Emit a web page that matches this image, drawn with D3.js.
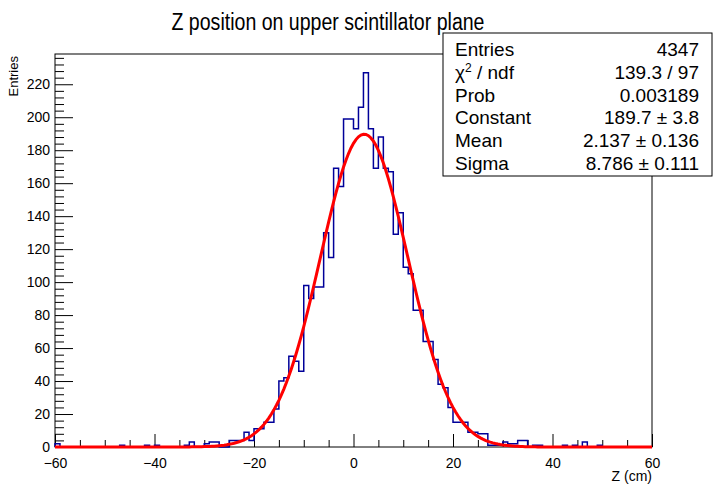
<!DOCTYPE html>
<html>
<head>
<meta charset="utf-8">
<script src="https://cdn.jsdelivr.net/npm/d3@7/dist/d3.min.js"></script>
<style>
  body { margin: 0; background: #fff; }
  text { font-family: "Liberation Sans", Arial, Helvetica, sans-serif; fill: #000; }
</style>
</head>
<body>
<div id="chart"></div>
<script>
// histogram: 120 bins of 1 cm from -60 to 60
var binStart = -60;
var binWidth = 1;
var binCounts = [
  2, 0, 0, 0, 0, 0, 0, 0, 0, 0,     // -60 .. -51
  0, 0, 0, 1, 0, 0, 0, 0, 1, 0,     // -50 .. -41
  1, 0, 0, 0, 0, 0, 1, 3, 0, 0,     // -40 .. -31
  2, 3, 3, 0, 0, 4, 4, 4, 9, 4,     // -30 .. -21
  11, 11, 15, 15, 23, 40, 42, 55, 52, 46,        // -20 .. -11
  98, 90, 97, 97, 130, 115, 169, 158, 199, 199,  // -10 .. -1
  193, 206, 227, 193, 169, 188, 169, 167, 129, 142, // 0 .. 9
  109, 105, 83, 83, 64, 64, 53, 38, 36, 24,      // 10 .. 19
  15, 15, 15, 9, 9, 8, 8, 1, 1, 1,  // 20 .. 29
  3, 2, 2, 4, 4, 0, 1, 1, 0, 0,     // 30 .. 39
  0, 0, 1, 0, 1, 0, 3, 0, 0, 1,     // 40 .. 49
  0, 0, 0, 0, 0, 0, 0, 0, 0, 0      // 50 .. 59
];

// gaussian fit result (from the stats box)
var fitConstant = 189.7;
var fitMean = 2.137;
var fitSigma = 8.786;

var statLabels = ["Entries", "chi2", "Prob", "Constant", "Mean", "Sigma"];
var statValues = ["4347", "139.3 / 97", "0.003189", "189.7 \u00b1 3.8", "2.137 \u00b1 0.136", "8.786 \u00b1 0.111"];

var xTicks = [-60, -40, -20, 0, 20, 40, 60];
var yTicks = [0, 20, 40, 60, 80, 100, 120, 140, 160, 180, 200, 220];

var svgWidth = 720;
var svgHeight = 491;
var frame = { left: 55, right: 652, top: 54, bottom: 447 };

var svg = d3.select("#chart")
  .append("svg")
  .attr("width", svgWidth)
  .attr("height", svgHeight);

var xScale = d3.scaleLinear()
  .domain([-60, 60])
  .range([frame.left, frame.right]);

var yScale = d3.scaleLinear()
  .domain([0, 1.05 * d3.max(binCounts)])
  .range([frame.bottom, frame.top]);

// x axis: major every 20, minor every 5
var xAxis = d3.axisBottom(xScale)
  .tickValues(xTicks)
  .tickSize(-13)
  .tickFormat(d => d < 0 ? "\u2212" + Math.abs(d) : d);
var xMinor = d3.axisBottom(xScale)
  .tickValues(d3.range(-60, 61, 5).filter(d => d % 20 !== 0))
  .tickSize(-7)
  .tickFormat("");

var gx = svg.append("g")
  .attr("transform", `translate(0, ${frame.bottom})`)
  .call(xAxis);
svg.append("g")
  .attr("transform", `translate(0, ${frame.bottom})`)
  .call(xMinor);

// y axis: major every 20, minor every 4
var yAxis = d3.axisLeft(yScale)
  .tickValues(yTicks)
  .tickSize(-18);
var yMinor = d3.axisLeft(yScale)
  .tickValues(d3.range(0, 237, 4).filter(d => d % 20 !== 0))
  .tickSize(-9)
  .tickFormat("");

var gy = svg.append("g")
  .attr("transform", `translate(${frame.left}, 0)`)
  .call(yAxis);
svg.append("g")
  .attr("transform", `translate(${frame.left}, 0)`)
  .call(yMinor);

svg.selectAll(".domain").remove();
svg.selectAll(".tick line").attr("stroke", "#000").attr("stroke-width", 1);

gx.selectAll(".tick text")
  .attr("font-size", "14px")
  .attr("y", 11)
  .attr("dy", "0.71em")
  .style("font-family", "'Liberation Sans', Arial, sans-serif");

gy.selectAll(".tick text")
  .attr("font-size", "14px")
  .attr("x", -5)
  .attr("dy", "0.3em")
  .style("font-family", "'Liberation Sans', Arial, sans-serif");

// frame
svg.append("rect")
  .attr("x", frame.left)
  .attr("y", frame.top)
  .attr("width", frame.right - frame.left)
  .attr("height", frame.bottom - frame.top)
  .attr("fill", "none")
  .attr("stroke", "#000")
  .attr("stroke-width", 1);

// histogram outline
var histPath = d3.path();
histPath.moveTo(xScale(binStart), yScale(0));
binCounts.forEach(function(c, i) {
  var lo = binStart + i * binWidth;
  histPath.lineTo(xScale(lo), yScale(c));
  histPath.lineTo(xScale(lo + binWidth), yScale(c));
});
histPath.lineTo(xScale(binStart + binCounts.length * binWidth), yScale(0));

svg.append("path")
  .attr("d", histPath.toString())
  .attr("fill", "none")
  .attr("stroke", "#000099")
  .attr("stroke-width", 1.5);

// fitted gaussian
var fitX = d3.range(-60, 60.01, 0.5);
var fitLine = d3.line()
  .x(d => xScale(d))
  .y(d => yScale(fitConstant * Math.exp(-0.5 * Math.pow((d - fitMean) / fitSigma, 2))));

svg.append("path")
  .datum(fitX)
  .attr("d", fitLine)
  .attr("fill", "none")
  .attr("stroke", "#ff0000")
  .attr("stroke-width", 3);

// title
svg.append("text")
  .attr("x", 328)
  .attr("y", 30)
  .attr("text-anchor", "middle")
  .attr("font-size", "23px")
  .attr("textLength", 313)
  .attr("lengthAdjust", "spacingAndGlyphs")
  .text("Z position on upper scintillator plane");

// axis titles
svg.append("text")
  .attr("x", frame.right)
  .attr("y", 481)
  .attr("text-anchor", "end")
  .attr("font-size", "14px")
  .text("Z (cm)");

svg.append("text")
  .attr("transform", `translate(18, ${frame.top + 2}) rotate(-90)`)
  .attr("text-anchor", "end")
  .attr("font-size", "13px")
  .text("Entries");

// stats box
var box = { x: 443, y: 33, w: 269, h: 143 };
svg.append("rect")
  .attr("x", box.x)
  .attr("y", box.y)
  .attr("width", box.w)
  .attr("height", box.h)
  .attr("fill", "#fff")
  .attr("stroke", "#000")
  .attr("stroke-width", 1);

var rowH = 22.8;
statLabels.forEach(function(lab, i) {
  var yb = box.y + 16 + rowH * i + 7;
  var t = svg.append("text")
    .attr("x", box.x + 12)
    .attr("y", yb)
    .attr("font-size", "19px");
  if (lab === "chi2") {
    t.append("tspan").text("\u03c7");
    t.append("tspan").attr("font-size", "12px").attr("dy", -7).text("2");
    t.append("tspan").attr("dy", 7).text(" / ndf");
  } else {
    t.text(lab);
  }
  svg.append("text")
    .attr("x", box.x + box.w - 13)
    .attr("y", yb)
    .attr("text-anchor", "end")
    .attr("font-size", "19px")
    .text(statValues[i]);
});
</script>
</body>
</html>
